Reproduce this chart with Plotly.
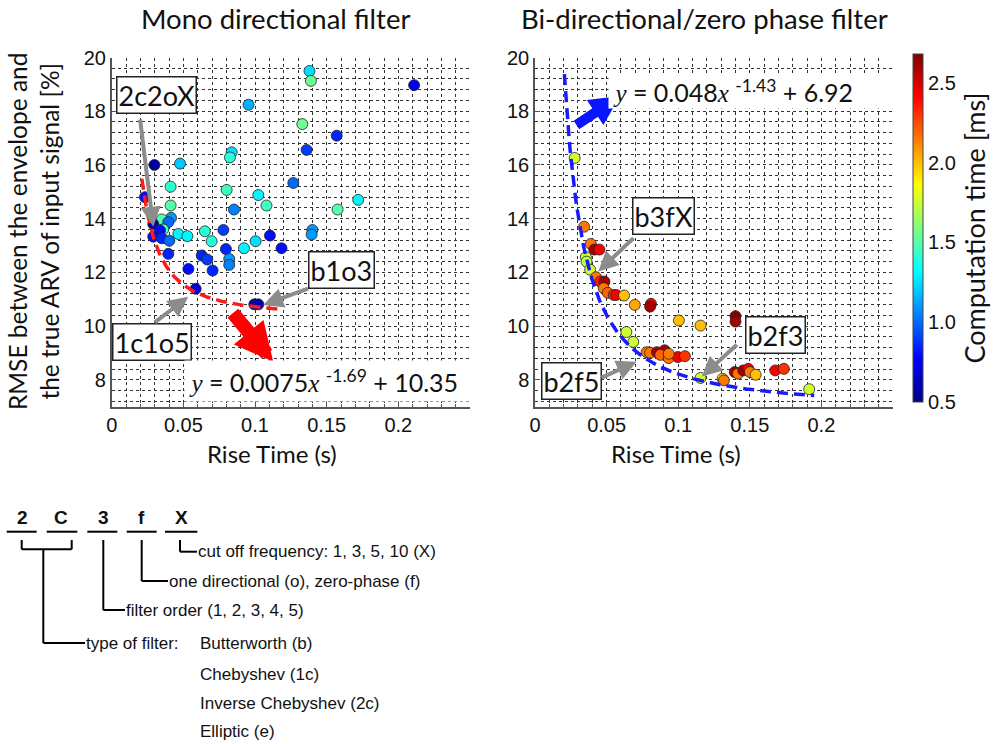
import numpy as np
import plotly.graph_objects as go

W, H = 1005, 744

# ---------------- data ----------------
mono_rise = [0.138, 0.139, 0.211, 0.0955, 0.133, 0.157, 0.136, 0.0837, 0.0825, 0.0298,
             0.0477, 0.1267, 0.0411, 0.0802, 0.1023, 0.172, 0.108, 0.0411, 0.0232, 0.0853,
             0.1576, 0.0414, 0.0349, 0.0395, 0.029, 0.036, 0.0337, 0.065, 0.0779, 0.14,
             0.0465, 0.0528, 0.1395, 0.029, 0.035, 0.0402, 0.0697, 0.1104, 0.1004, 0.0923,
             0.0797, 0.1185, 0.0395, 0.0628, 0.0667, 0.082, 0.082, 0.0535, 0.0704, 0.0586,
             0.0995, 0.1023]
mono_rmse = [19.5, 19.13, 18.97, 18.24, 17.52, 17.09, 16.56, 16.47, 16.28, 16.0,
             16.05, 15.33, 15.19, 15.07, 14.88, 14.7, 14.49, 14.49, 14.8, 14.34,
             14.34, 14.03, 13.97, 13.87, 13.8, 13.6, 13.56, 13.53, 13.58, 13.58,
             13.43, 13.35, 13.41, 13.33, 13.27, 13.18, 13.16, 13.37, 13.16, 12.9,
             12.87, 12.9, 12.69, 12.63, 12.48, 12.5, 12.28, 12.13, 12.07, 11.39,
             10.81, 10.81]
mono_time = [1.25, 1.55, 0.75, 1.15, 1.55, 0.85, 0.9, 1.25, 1.4, 0.55,
             1.2, 1.0, 1.42, 1.45, 1.3, 1.3, 1.45, 1.5, 0.8, 1.05,
             1.5, 1.1, 1.5, 1.0, 0.6, 1.5, 0.8, 1.4, 0.9, 1.1,
             1.3, 1.3, 1.1, 0.8, 0.85, 1.0, 1.4, 0.8, 1.25, 1.3,
             0.85, 0.8, 0.85, 0.85, 0.9, 1.1, 1.05, 0.8, 0.85, 0.7,
             0.6, 0.6]

bi_rise = [0.0277, 0.0343, 0.039, 0.0414, 0.045, 0.0355, 0.036, 0.0385, 0.0426, 0.0456,
           0.0485, 0.048, 0.0508, 0.055, 0.0567, 0.0622, 0.0697, 0.081, 0.0804, 0.1005,
           0.1156, 0.14, 0.14, 0.0638, 0.0686, 0.078, 0.0804, 0.0851, 0.0905, 0.0875,
           0.0934, 0.0998, 0.1047, 0.0934, 0.1156, 0.131, 0.1319, 0.1395, 0.1418, 0.1454,
           0.149, 0.1501, 0.1541, 0.1678, 0.1738, 0.1915]
bi_rmse = [16.26, 13.7, 13.06, 12.85, 12.85, 12.57, 12.4, 12.1, 11.82, 11.66,
           11.66, 11.41, 11.24, 11.16, 11.16, 11.14, 10.79, 10.83, 10.73, 10.21,
           10.02, 10.37, 10.17, 9.78, 9.41, 9.03, 9.01, 9.03, 9.1, 8.93,
           8.81, 8.85, 8.88, 8.97, 8.07, 8.04, 7.98, 8.29, 8.23, 8.35,
           8.41, 8.29, 8.19, 8.35, 8.41, 7.65]
bi_time = [1.76, 2.15, 2.15, 2.6, 2.42, 1.76, 1.7, 1.76, 2.15, 2.35,
           2.6, 2.15, 2.2, 2.3, 2.42, 2.0, 2.05, 2.42, 2.6, 2.0,
           2.0, 2.65, 2.6, 1.76, 1.76, 2.15, 2.15, 2.6, 2.6, 2.2,
           2.15, 2.42, 2.3, 2.15, 1.76, 1.95, 2.15, 2.6, 2.15, 2.6,
           2.42, 2.15, 2.0, 2.42, 2.3, 1.76]

# fitted power laws shown in the chart: y = a * x^b + c
mono_fit = dict(a=0.0075, b=-1.69, c=10.35, x0=0.021, x1=0.117)
bi_fit = dict(a=0.048, b=-1.43, c=6.92, x0=0.0205, x1=0.195)

x_ticks = [0, 0.05, 0.1, 0.15, 0.2]
x_tick_text = ["0", "0.05", "0.1", "0.15", "0.2"]
y_ticks = [8, 10, 12, 14, 16, 18, 20]
cb_ticks = [0.5, 1.0, 1.5, 2.0, 2.5]
cb_tick_text = ["0.5", "1.0", "1.5", "2.0", "2.5"]

# ---------------- helpers ----------------
def px(x):
    return x / W

def py(y):
    return 1 - y / H

jet = [[0.0, "rgb(0,0,132)"], [0.125, "rgb(0,0,255)"], [0.375, "rgb(0,255,255)"],
       [0.625, "rgb(255,255,0)"], [0.875, "rgb(255,0,0)"], [1.0, "rgb(128,0,0)"]]

CAL = "Lato, 'Open Sans', sans-serif"
ARIAL = "'Liberation Sans', Arial, sans-serif"

fig = go.Figure()

marker_common = dict(size=11, coloraxis="coloraxis", line=dict(width=0.8, color="#222"))
fig.add_trace(go.Scatter(x=mono_rise, y=mono_rmse, mode="markers", xaxis="x", yaxis="y",
                         marker=dict(color=mono_time, **marker_common), showlegend=False))
fig.add_trace(go.Scatter(x=bi_rise, y=bi_rmse, mode="markers", xaxis="x2", yaxis="y2",
                         marker=dict(color=bi_time, **marker_common), showlegend=False))

def fit_curve(p):
    xs = np.linspace(p["x0"], p["x1"], 200)
    return xs, p["a"] * xs ** p["b"] + p["c"]

mx, my = fit_curve(mono_fit)
bx, by = fit_curve(bi_fit)
fig.add_trace(go.Scatter(x=mx, y=my, mode="lines", xaxis="x", yaxis="y",
                         line=dict(color="#ff1a1a", width=3.5, dash="11px,6px"), showlegend=False))
fig.add_trace(go.Scatter(x=bx, y=by, mode="lines", xaxis="x2", yaxis="y2",
                         line=dict(color="#1a1aff", width=3.5, dash="11px,6px"), showlegend=False))

grid = dict(showgrid=True, griddash="dot", gridcolor="#333", gridwidth=1)
def xaxis(domain, anchor):
    return dict(domain=domain, anchor=anchor, range=[0, 0.25], tickmode="array",
                tickvals=x_ticks, ticktext=x_tick_text, zeroline=False, automargin=False,
                showline=True, linecolor="#555", linewidth=1.5,
                ticks="inside", ticklen=5, tickcolor="#555",
                tickfont=dict(family=ARIAL, size=20, color="#111"),
                minor=dict(dtick=0.01, tick0=0, ticks="inside", ticklen=3, tickcolor="#555",
                           showgrid=True, griddash="dot", gridcolor="#333", gridwidth=1),
                **grid)

def yaxis(domain, anchor):
    return dict(domain=domain, anchor=anchor, range=[7, 20], tickmode="array",
                tickvals=y_ticks, ticktext=[str(v) for v in y_ticks], zeroline=False,
                automargin=False,
                showline=True, linecolor="#555", linewidth=1.5,
                ticks="inside", ticklen=5, tickcolor="#555",
                tickfont=dict(family=ARIAL, size=20, color="#111"),
                minor=dict(dtick=0.4, tick0=0, ticks="", showgrid=True, griddash="dot",
                           gridcolor="#333", gridwidth=1),
                **grid)

ydom = [py(406.7), py(57.5)]
fig.update_layout(
    width=W, height=H, margin=dict(l=0, r=0, t=0, b=0, autoexpand=False),
    paper_bgcolor="white", plot_bgcolor="white",
    xaxis=xaxis([px(111.7), px(470)], "y"),
    yaxis=yaxis(ydom, "x"),
    xaxis2=xaxis([px(535), px(893)], "y2"),
    yaxis2=yaxis(ydom, "x2"),
    coloraxis=dict(
        colorscale=jet, cmin=0.5, cmax=2.68,
        colorbar=dict(x=px(913), xanchor="left", xref="paper", y=py(54), yanchor="top",
                      len=(402 - 54) / H, lenmode="fraction", thickness=10,
                      thicknessmode="pixels", outlinewidth=1, outlinecolor="#444",
                      xpad=0, ypad=0,
                      tickmode="array", tickvals=cb_ticks, ticktext=cb_tick_text,
                      ticks="", tickfont=dict(family=ARIAL, size=20, color="#111"),
                      title=dict(text="Computation time [ms]", side="right",
                                 font=dict(family=CAL, size=27, color="#111"))),
    ),
)

anns = []
shapes = []

def ptxt(s, x, y, size, family=CAL, angle=0, xanchor="center", bold=False):
    anns.append(dict(text=f"<b>{s}</b>" if bold else s, x=px(x), y=py(y), xref="paper",
                     yref="paper", showarrow=False, xanchor=xanchor, yanchor="middle",
                     textangle=angle, font=dict(family=family, size=size, color="#111")))

# titles and axis titles
ptxt("Mono directional filter", 275, 19, 27.5)
ptxt("Bi-directional/zero phase filter", 704, 19, 27.5)
ptxt("Rise Time (s)", 272, 453, 24)
ptxt("Rise Time (s)", 676, 453, 24)
ptxt("RMSE between the envelope and<br>the true ARV of input signal [%]", 34, 232, 24.5, angle=-90)

# label boxes
def label_box(text, x, y, xr, yr):
    anns.append(dict(text=text, x=x, y=y, xref=xr, yref=yr, showarrow=False,
                     xanchor="center", yanchor="middle",
                     font=dict(family=CAL, size=27, color="#111"), bgcolor="white",
                     bordercolor="#222", borderwidth=1.5, borderpad=1))

def arrow(x, y, ax, ay, xr, yr, color="#8c8c8c", width=4, size=1.0):
    anns.append(dict(text="", x=x, y=y, ax=ax, ay=ay, xref=xr, yref=yr, axref=xr, ayref=yr,
                     showarrow=True, arrowhead=2, arrowsize=size, arrowwidth=width,
                     arrowcolor=color, standoff=0, startstandoff=0))

label_box("2c2oX", 0.0314, 18.6, "x", "y")
label_box("b1o3", 0.160, 12.09, "x", "y")
label_box("1c1o5", 0.0282, 9.40, "x", "y")
arrow(0.029, 13.70, 0.0197, 17.75, "x", "y")
arrow(0.1057, 10.79, 0.138, 11.42, "x", "y")
arrow(0.0534, 11.09, 0.029, 10.10, "x", "y")
arrow(0.1127, 8.67, 0.0837, 10.54, "x", "y", color="#ff0000", width=14, size=0.55)

label_box("b3fX", 0.0896, 14.11, "x2", "y2")
label_box("b2f3", 0.1676, 9.67, "x2", "y2")
label_box("b2f5", 0.0256, 7.96, "x2", "y2")
arrow(0.0442, 12.03, 0.0698, 13.33, "x2", "y2")
arrow(0.1165, 8.12, 0.142, 9.36, "x2", "y2")
arrow(0.071, 8.67, 0.0454, 8.06, "x2", "y2")
arrow(0.0594, 18.57, 0.0279, 17.45, "x2", "y2", color="#0a14ff", width=10, size=0.6)

SERIF = "style='font-family:\"Liberation Serif\", serif'"
def eq_text(a, b, c):
    return (f"&nbsp;<i><span {SERIF}>y</span></i> = {a}<i><span {SERIF}>x</span></i>"
            f" <sup>{b}</sup> + {c}")

anns.append(dict(text=eq_text("0.0075", "-1.69", "10.35"), x=0.0504, y=7.96, xref="x", yref="y",
                 xanchor="left", yanchor="middle", showarrow=False, bgcolor="white",
                 width=286, height=40, align="left", borderpad=0,
                 font=dict(family=CAL, size=25, color="#111")))
anns.append(dict(text=eq_text("0.048", "-1.43", "6.92"), x=0.051, y=18.76, xref="x2", yref="y2",
                 xanchor="left", yanchor="middle", showarrow=False, bgcolor="white",
                 width=285, height=34, align="left", borderpad=0,
                 font=dict(family=CAL, size=25, color="#111")))

# ---------------- code legend diagram ----------------
def line(x0, y0, x1, y1):
    shapes.append(dict(type="line", xref="paper", yref="paper", x0=px(x0), y0=py(y0),
                       x1=px(x1), y1=py(y1), line=dict(color="black", width=2)))

code_chars = ["2", "C", "3", "f", "X"]
code_x = [22.5, 61, 103, 141.5, 181.5]
for ch, cx in zip(code_chars, code_x):
    ptxt(ch, cx, 517, 19, family=ARIAL, bold=True)
for a, b in [(6.7, 36.7), (46.7, 77.3), (87.3, 117.3), (126.7, 156.7), (165, 197.3)]:
    line(a, 531.7, b, 531.7)

# bracket 2C
line(21.7, 540, 21.7, 549.3)
line(71.7, 540, 71.7, 549.3)
line(21.7, 549.3, 71.7, 549.3)
line(43.3, 549.3, 43.3, 643)
line(43.3, 643, 85, 643)
# 3
line(103.3, 540, 103.3, 610)
line(103.3, 610, 125, 610)
# f
line(141.7, 540, 141.7, 581)
line(141.7, 581, 168, 581)
# X
line(180, 540, 180, 551.7)
line(180, 551.7, 197, 551.7)

DS = 17
ptxt("cut off frequency: 1, 3, 5, 10 (X)", 196, 551.7, DS, family=ARIAL, xanchor="left")
ptxt("one directional (o), zero-phase (f)", 166.5, 581, DS, family=ARIAL, xanchor="left")
ptxt("filter order (1, 2, 3, 4, 5)", 123.5, 610, DS, family=ARIAL, xanchor="left")
ptxt("type of filter:", 84, 643, DS, family=ARIAL, xanchor="left")
ptxt("Butterworth (b)", 198, 643, DS, family=ARIAL, xanchor="left")
ptxt("Chebyshev (1c)", 198, 674, DS, family=ARIAL, xanchor="left")
ptxt("Inverse Chebyshev (2c)", 198, 703, DS, family=ARIAL, xanchor="left")
ptxt("Elliptic (e)", 198, 731, DS, family=ARIAL, xanchor="left")

fig.update_layout(annotations=anns, shapes=shapes)
fig.write_html("out.html")
